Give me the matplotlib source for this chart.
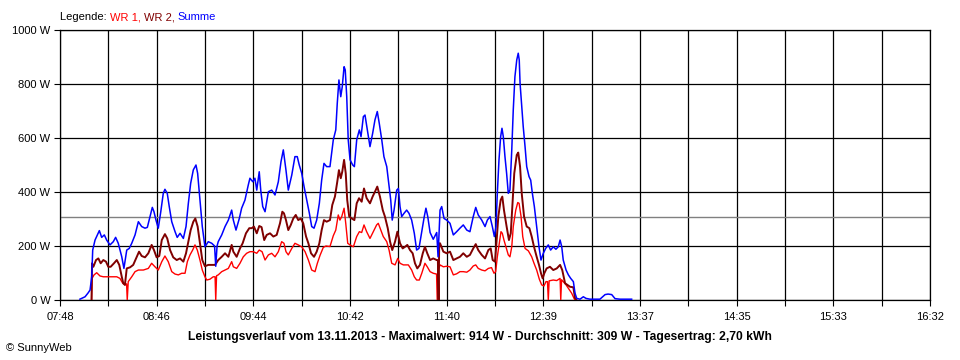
"""SunnyWeb daily power curve for two inverters (13.11.2013)."""
import matplotlib
matplotlib.use("Agg")
import matplotlib.pyplot as plt
import numpy as np

plt.rcParams["font.family"] = ["Liberation Sans", "DejaVu Sans"]

# minutes after 07:48 and power in W
t_wr1 = [19.0, 19.3, 20.5, 22.1, 24.1, 26.1, 29.1, 32.1, 34.2, 36.1, 37.8, 39.1, 40.1, 40.5, 41.1,
         43.2, 45.2, 47.2, 50.2, 53.2, 55.2, 57.2, 59.2, 61.3, 63.2, 65.2, 67.3, 69.3, 71.3, 73.3,
         75.3, 76.7, 78.3, 79.9, 81.3, 82.7, 84.3, 85.7, 87.3, 88.4, 90.3, 92.3, 93.4, 93.8, 94.3,
         95.3, 97.4, 99.4, 101.4, 103.4, 104.4, 106.4, 108.4, 110.4, 112.4, 114.4, 116.4, 118.5,
         120.0, 121.7, 123.5, 125.5, 127.5, 129.5, 131.5, 133.5, 134.9, 136.1, 137.5, 139.6, 141.5,
         143.5, 145.6, 147.6, 149.6, 151.6, 153.6, 155.0, 156.6, 158.6, 160.2, 162.6, 164.6, 166.1,
         167.6, 168.6, 169.7, 171.1, 172.1, 173.3, 174.7, 176.7, 178.7, 180.3, 181.7, 183.1, 184.7,
         186.7, 188.7, 190.7, 191.7, 193.2, 194.7, 196.8, 198.2, 199.8, 201.8, 203.4, 204.8, 206.8,
         209.8, 211.8, 213.4, 214.8, 216.4, 217.9, 219.8, 221.2, 222.9, 224.8, 226.8, 227.2, 227.8,
         228.9, 230.9, 232.9, 234.9, 236.9, 238.9, 240.9, 242.9, 245.0, 246.9, 248.9, 250.4, 251.9,
         254.0, 256.0, 258.0, 259.9, 261.4, 262.4, 263.4, 264.6, 265.6, 266.4, 267.4, 268.6, 270.0,
         271.0, 272.1, 273.0, 274.5, 275.7, 276.5, 277.7, 278.7, 280.1, 282.1, 284.1, 285.5, 287.1,
         288.7, 290.1, 291.5, 292.7, 293.6, 294.1, 294.6, 297.1, 299.2, 301.2, 301.6, 302.1, 303.1,
         304.8, 306.2, 308.2, 309.6, 310.2]
wr1 = [0, 80, 93, 101, 89, 86, 86, 86, 86, 80, 62, 56, 60, 0, 68,
       86, 105, 111, 111, 117, 136, 123, 111, 142, 163, 142, 105, 96, 93, 99,
       99, 142, 167, 185, 204, 185, 148, 111, 86, 74, 77, 86, 86, 0, 90,
       93, 105, 111, 117, 142, 123, 117, 136, 160, 173, 179, 179, 173,
       185, 179, 148, 167, 173, 160, 179, 216, 210, 179, 167, 191, 210,
       204, 197, 179, 148, 111, 105, 136, 165, 195, 200, 198, 238, 259,
       315, 296, 309, 340, 284, 210, 204, 197, 235, 253, 250, 278, 253,
       228, 253, 278, 284, 259, 235, 216, 185, 136, 130, 154, 136, 130,
       130, 111, 86, 74, 74, 99, 136, 123, 105, 99, 96, 0, 110,
       130, 123, 125, 123, 93, 97, 105, 105, 103, 111, 126, 130, 117,
       111, 108, 117, 120, 99, 105, 160, 210, 253, 247, 222, 197, 167,
       160, 197, 272, 333, 361, 358, 309, 235, 191, 182, 160, 136, 111,
       77, 56, 52, 68, 68, 0, 71, 74, 72, 80, 0, 75, 68,
       56, 43, 25, 6, 0]

t_wr2 = [19.0, 19.3, 20.1, 21.7, 23.1, 24.5, 26.1, 27.7, 29.1, 30.5, 32.5, 34.2, 35.7, 37.2, 38.1,
         39.1, 40.2, 42.2, 44.1, 46.2, 47.6, 49.2, 51.2, 53.2, 55.2, 56.6, 58.2, 59.8, 61.3, 63.2,
         64.6, 66.3, 68.2, 70.3, 72.3, 74.3, 75.9, 77.3, 78.7, 80.3, 81.5, 82.9, 84.3, 85.7, 87.3,
         89.3, 90.3, 93.4, 95.3, 97.4, 99.4, 101.4, 103.4, 104.4, 106.4, 108.4, 110.0, 112.0, 114.0,
         115.5, 116.8, 118.5, 120.0, 121.4, 123.0, 124.5, 126.5, 128.5, 130.5, 132.5, 133.9, 134.9,
         136.1, 137.5, 139.0, 140.5, 142.0, 143.5, 145.0, 146.5, 148.2, 149.6, 151.2, 153.0, 154.6,
         156.2, 157.6, 159.0, 160.6, 162.6, 164.0, 165.6, 167.0, 168.0, 169.1, 170.0, 171.1, 172.1,
         173.0, 174.2, 175.7, 177.3, 178.7, 180.1, 181.7, 183.1, 184.7, 186.7, 188.3, 189.7, 191.1,
         192.7, 194.4, 195.7, 197.4, 198.8, 200.1, 201.8, 203.2, 204.8, 206.4, 207.8, 209.2, 210.8,
         212.4, 213.8, 215.2, 216.8, 218.5, 219.8, 221.2, 222.9, 224.8, 226.9, 227.6, 228.0, 228.4,
         228.9, 230.9, 232.9, 234.9, 236.9, 238.9, 240.9, 242.9, 245.0, 246.9, 248.9, 250.4, 251.9,
         254.0, 256.0, 258.0, 259.4, 260.6, 262.0, 263.0, 264.0, 265.4, 266.4, 267.4, 269.0, 270.4,
         271.5, 272.7, 273.6, 275.1, 276.0, 277.1, 278.1, 279.5, 281.1, 282.7, 284.1, 285.5, 287.1,
         288.5, 289.7, 290.7, 291.7, 293.1, 295.1, 297.1, 299.2, 301.2, 302.5, 304.2, 305.6, 307.2,
         309.2, 310.2, 311.1]
wr2 = [0, 136, 123, 148, 154, 136, 148, 142, 123, 123, 136, 148, 130, 86, 62,
       56, 117, 121, 130, 160, 179, 163, 158, 173, 204, 185, 158, 163, 222, 244,
       228, 185, 158, 148, 154, 142, 173, 216, 259, 290, 302, 272, 210, 148, 125,
       130, 130, 130, 148, 160, 173, 160, 204, 179, 160, 191, 210, 247, 266,
       266, 272, 247, 274, 270, 222, 241, 247, 235, 241, 284, 327, 321,
       296, 259, 278, 302, 315, 296, 302, 284, 235, 210, 173, 160, 179,
       210, 259, 296, 290, 296, 352, 383, 438, 481, 451, 475, 519, 469,
       370, 309, 302, 296, 358, 377, 364, 413, 377, 358, 383, 401, 420,
       383, 333, 309, 266, 216, 185, 216, 253, 210, 191, 197, 204, 185,
       173, 136, 117, 130, 173, 197, 173, 148, 154, 148, 148, 0, 210,
       210, 179, 173, 179, 148, 154, 160, 173, 160, 167, 191, 207, 185,
       167, 154, 185, 191, 148, 142, 222, 309, 370, 383, 333, 272, 222,
       247, 370, 469, 537, 546, 494, 395, 309, 272, 266, 235, 197, 160,
       130, 99, 80, 99, 117, 123, 111, 117, 130, 111, 62, 56, 49,
       47, 6, 0]

t_sum = [12.0, 15.1, 16.9, 18.1, 19.1, 19.7, 21.1, 23.7, 25.1, 26.7, 28.1, 30.1, 32.1, 33.5, 35.1,
         37.2, 38.5, 40.2, 41.7, 43.2, 45.2, 47.2, 49.2, 51.2, 52.6, 54.2, 55.6, 56.6, 57.8, 59.2,
         60.7, 62.2, 63.2, 64.6, 65.8, 67.3, 69.3, 70.6, 72.3, 74.3, 75.9, 77.3, 78.7, 80.3, 81.9,
         82.9, 84.3, 85.7, 87.3, 89.3, 91.4, 93.1, 93.8, 94.6, 95.3, 97.4, 99.4, 101.4, 103.4, 104.4,
         106.0, 108.0, 109.4, 111.4, 113.4, 114.4, 116.1, 117.4, 118.5, 120.0, 120.9, 122.1, 123.5,
         125.5, 127.5, 129.5, 131.5, 133.1, 134.5, 136.1, 137.5, 139.6, 141.5, 142.9, 144.1, 145.6,
         147.0, 148.6, 150.2, 151.6, 153.0, 154.6, 156.2, 157.6, 159.0, 160.6, 162.6, 164.6, 166.1,
         167.0, 168.0, 169.1, 170.0, 171.1, 171.8, 172.7, 173.6, 174.7, 176.3, 177.3, 178.7, 180.3,
         181.3, 182.7, 183.7, 185.1, 186.7, 188.3, 189.7, 191.1, 192.3, 193.8, 195.1, 196.8, 198.2,
         199.2, 200.1, 201.2, 202.8, 203.8, 204.8, 205.8, 207.2, 208.8, 210.2, 211.8, 213.4, 214.8,
         216.2, 217.9, 219.4, 220.4, 221.5, 222.9, 224.8, 226.9, 227.7, 228.9, 229.9, 231.3, 232.9,
         234.9, 236.9, 238.9, 240.9, 242.9, 245.0, 246.9, 248.9, 250.4, 251.9, 254.0, 256.0, 257.4,
         259.0, 260.4, 261.6, 262.6, 263.4, 264.4, 265.4, 266.2, 267.0, 268.0, 269.0, 270.0, 271.0,
         272.1, 273.0, 274.0, 275.1, 276.0, 276.6, 277.1, 278.1, 279.0, 280.1, 281.1, 282.5, 283.5,
         284.5, 285.7, 287.1, 288.5, 289.7, 291.1, 292.5, 294.1, 295.5, 297.1, 298.7, 300.1, 301.2,
         302.2, 303.1, 304.8, 306.2, 307.6, 309.2, 310.2, 311.2, 313.2, 315.2, 316.8, 319.2, 325.2,
         328.3, 330.1, 332.3, 334.3, 337.3, 344.3]
summe = [3, 12, 26, 37, 86, 185, 222, 257, 232, 241, 222, 204, 216, 232, 210,
         160, 117, 185, 191, 210, 241, 290, 272, 266, 269, 309, 343, 327, 296, 266,
         327, 395, 410, 395, 346, 290, 253, 232, 247, 228, 272, 358, 432, 482, 500,
         469, 370, 272, 197, 216, 210, 200, 125, 200, 216, 241, 272, 296, 333, 296,
         259, 302, 340, 370, 426, 451, 438, 451, 407, 475, 407, 346, 327,
         401, 407, 389, 438, 512, 556, 481, 407, 463, 531, 531, 500, 469,
         420, 370, 321, 272, 266, 296, 358, 444, 506, 494, 494, 593, 630,
         729, 815, 753, 790, 864, 852, 753, 593, 519, 500, 494, 593, 630,
         605, 679, 685, 630, 568, 617, 667, 698, 654, 593, 531, 494, 420,
         370, 296, 333, 407, 413, 346, 309, 321, 333, 321, 296, 247, 185,
         191, 253, 309, 340, 309, 250, 225, 250, 160, 333, 346, 302, 296,
         284, 241, 253, 266, 278, 259, 253, 309, 343, 315, 296, 272, 296,
         309, 272, 235, 272, 395, 519, 605, 636, 605, 531, 469, 395, 407,
         556, 704, 827, 889, 914, 889, 802, 716, 642, 568, 494, 457, 444,
         395, 346, 272, 197, 148, 173, 191, 204, 185, 197, 188, 197, 222,
         197, 148, 111, 93, 80, 68, 25, 6, 3, 12, 6, 3, 3,
         20, 22, 20, 5, 3, 3]

durchschnitt = 309  # W
span_min = 524      # 07:48 .. 16:32
x_labels = ["07:48", "08:46", "09:44", "10:42", "11:40", "12:39", "13:37", "14:35", "15:33", "16:32"]
y_ticks = [0, 200, 400, 600, 800, 1000]

fig = plt.figure(figsize=(9.6, 3.6), dpi=100, facecolor="white")
ax = fig.add_axes([60 / 960, 60 / 360, 870 / 960, 270 / 360])

ax.axhline(durchschnitt, color="#808080", lw=1, zorder=2)
ax.plot(t_wr1, wr1, color="#FF0000", lw=1, zorder=3)
ax.plot(t_wr2, wr2, color="#800000", lw=1.4, zorder=4)
ax.plot(t_sum, summe, color="#0000FF", lw=1.1, zorder=5)

# 18 grid intervals, every second one labelled
ax.set_xlim(0, span_min)
ax.set_ylim(0, 1000)
ax.set_xticks(np.linspace(0, span_min, 19))
ax.set_xticklabels([x_labels[i // 2] if i % 2 == 0 else "" for i in range(19)])
ax.set_yticks(y_ticks)
ax.set_yticklabels([f"{v} W" for v in y_ticks])
ax.tick_params(direction="out", length=4, width=0.8, color="black", labelsize=8)
ax.tick_params(axis="x", pad=5)
ax.tick_params(axis="y", pad=3)
ax.grid(True, color="black", lw=0.9, zorder=1)
ax.set_axisbelow(True)
for sp in ax.spines.values():
    sp.set_color("black")
    sp.set_linewidth(0.9)

# legend line in the top left corner, coloured word by word
t = fig.text(60 / 960, 1 - 17 / 360, "Legende: ", fontsize=8, va="center", color="black")
for word, col in [("WR 1, ", "#FF0000"), ("WR 2, ", "#800000"), ("Summe", "#0000FF")]:
    t = ax.annotate(word, xy=(1, 0), xycoords=t, va="bottom", ha="left",
                    fontsize=8, color=col, annotation_clip=False)

fig.text(0.5, 1 - 337 / 360,
         "Leistungsverlauf vom 13.11.2013 - Maximalwert: 914 W - Durchschnitt: 309 W - "
         "Tagesertrag: 2,70 kWh", ha="center", va="center", fontsize=8.7, fontweight="bold")
fig.text(6 / 960, 1 - 348 / 360, "© SunnyWeb", ha="left", va="center", fontsize=8)

fig.savefig("out.png", dpi=100, facecolor="white")
